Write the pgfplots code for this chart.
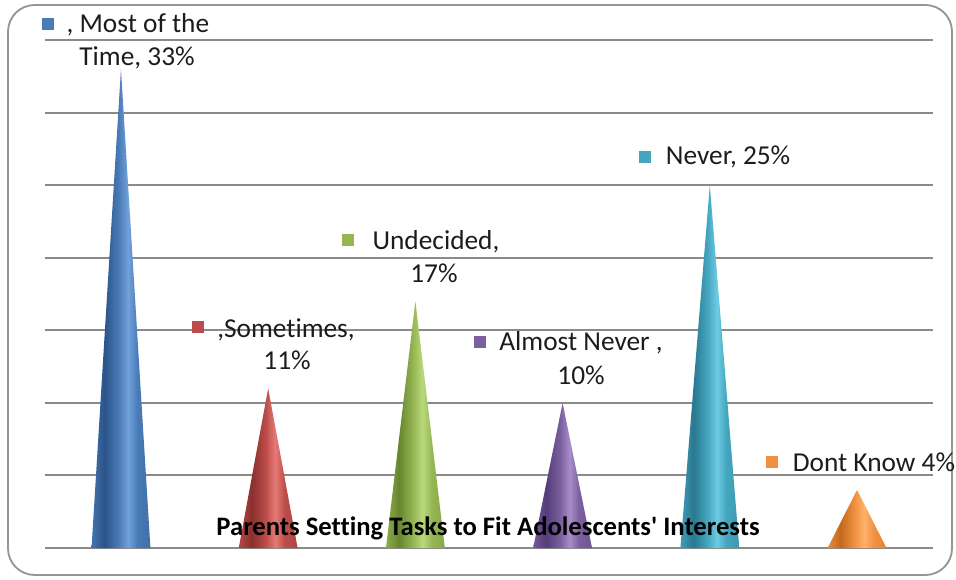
\documentclass[border=0pt]{standalone}
\usepackage{pgfplots}
\pgfplotsset{compat=1.18}
\usepackage{fontspec}
\setmainfont[Ligatures=NoCommon]{Carlito}
\newfontfamily\titlefont[Ligatures=NoCommon]{Carlito}

% Office palette: edge (dark), face (base) and highlight tones for each cone
\definecolor{bluD}{HTML}{2A5389}\definecolor{bluM}{HTML}{4A7BB6}\definecolor{bluL}{HTML}{72A2DC}
\definecolor{redD}{HTML}{8A302D}\definecolor{redM}{HTML}{BD4D4A}\definecolor{redL}{HTML}{E57A76}
\definecolor{grnD}{HTML}{66852F}\definecolor{grnM}{HTML}{96B654}\definecolor{grnL}{HTML}{BAD97A}
\definecolor{purD}{HTML}{553C7B}\definecolor{purM}{HTML}{7C609E}\definecolor{purL}{HTML}{A88DCA}
\definecolor{aquD}{HTML}{2A7890}\definecolor{aquM}{HTML}{45A6C0}\definecolor{aquL}{HTML}{6DCCE3}
\definecolor{orgD}{HTML}{C4691C}\definecolor{orgM}{HTML}{F09142}\definecolor{orgL}{HTML}{FFB26C}
\definecolor{gridgray}{HTML}{8A8A8A}
\definecolor{txt}{HTML}{1C1C1C}

% cone lighting across the base: darker band on the left, highlight right of centre
\newcommand{\coneshading}[2]{%
  \pgfdeclarehorizontalshading{#1}{100bp}{%
    color(0bp)=(#2M); color(25bp)=(#2M!80!#2D); color(36bp)=(#2D);
    color(48bp)=(#2M); color(56bp)=(#2L); color(64bp)=(#2M);
    color(75bp)=(#2M!70!#2D); color(100bp)=(#2M!70!#2D)}}
\coneshading{coneblu}{blu}
\coneshading{conered}{red}
\coneshading{conegrn}{grn}
\coneshading{conepur}{pur}
\coneshading{coneaqu}{aqu}
\coneshading{coneorg}{org}

\newcommand{\key}[1]{\textcolor{#1}{\rule{8.5pt}{8.5pt}}}

\begin{document}
\begin{tikzpicture}[
  lbl/.style={font=\fontsize{20.5}{24}\selectfont, text=txt, inner sep=0pt},
]
\useasboundingbox (0,0) rectangle (717pt,434.25pt);
\draw[gridgray!90, line width=1.4pt, rounded corners=20pt] (6pt,3pt) rectangle (714pt,430.5pt);
\begin{axis}[
  at={(33.75pt,23.25pt)}, anchor=south west,
  scale only axis, width=666pt, height=381pt,
  xmin=-0.516, xmax=5.516, ymin=0, ymax=35,
  ytick={0,5,...,35}, yticklabels={}, xtick=\empty,
  ymajorgrids, grid style={gridgray, line width=1.5pt},
  axis line style={draw=none}, major tick length=0pt,
  clip=false,
]
% cones: (centre - half base, 0) -- (centre, value) -- (centre + half base, 0)
\addplot[draw=none, shading=coneblu] coordinates {(-0.2,0) (0,33) (0.2,0)} -- cycle;
\addplot[draw=none, shading=conered] coordinates {(0.8,0) (1,11) (1.2,0)} -- cycle;
\addplot[draw=none, shading=conegrn] coordinates {(1.8,0) (2,17) (2.2,0)} -- cycle;
\addplot[draw=none, shading=conepur] coordinates {(2.8,0) (3,10) (3.2,0)} -- cycle;
\addplot[draw=none, shading=coneaqu] coordinates {(3.8,0) (4,25) (4.2,0)} -- cycle;
\addplot[draw=none, shading=coneorg] coordinates {(4.8,0) (5,4) (5.2,0)} -- cycle;

% data labels with their legend keys
\node[lbl] at (axis cs:-0.496,36.1) {\key{bluM}};
\node[lbl] at (axis cs:0.115,36.03) {, Most of the};
\node[lbl] at (axis cs:0.109,33.76) {Time, 33\%};
\node[lbl] at (axis cs:0.523,15.23) {\key{redM}};
\node[lbl] at (axis cs:1.121,15.02) {,Sometimes,};
\node[lbl] at (axis cs:1.128,12.95) {11\%};
\node[lbl] at (axis cs:1.542,21.22) {\key{grnM}};
\node[lbl] at (axis cs:2.140,21.08) {Undecided,};
\node[lbl] at (axis cs:2.126,18.95) {17\%};
\node[lbl] at (axis cs:2.439,14.19) {\key{purM}};
\node[lbl] at (axis cs:3.125,14.12) {Almost Never ,};
\node[lbl] at (axis cs:3.125,11.92) {10\%};
\node[lbl] at (axis cs:3.560,26.94) {\key{aquM}};
\node[lbl] at (axis cs:4.124,26.94) {Never, 25\%};
\node[lbl] at (axis cs:4.423,5.93) {\key{orgM}};
\node[lbl] at (axis cs:5.115,5.93) {Dont Know 4\%};

\node[inner sep=0pt, font=\fontsize{20}{24}\titlefont\bfseries, text=black] at (axis cs:2.493,1.38) {Parents Setting Tasks to Fit Adolescents' Interests};
\end{axis}
\end{tikzpicture}
\end{document}
